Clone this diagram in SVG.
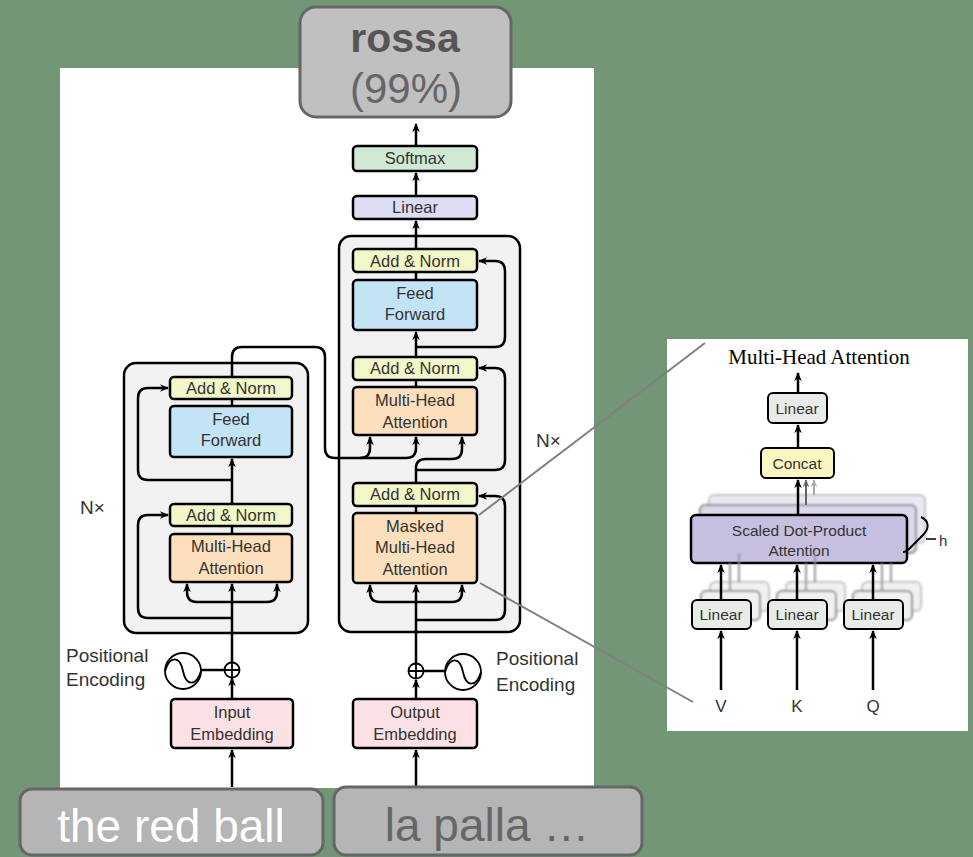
<svg xmlns="http://www.w3.org/2000/svg" width="973" height="857" viewBox="0 0 973 857">
  <defs>
    <marker id="ah" viewBox="0 0 10 10" refX="9" refY="5" markerWidth="9" markerHeight="9" markerUnits="userSpaceOnUse" orient="auto">
      <path d="M0,0.8 L10,5 L0,9.2 L3,5 z" fill="#000"/>
    </marker>
    <marker id="ahg" viewBox="0 0 10 10" refX="9" refY="5" markerWidth="8" markerHeight="8" markerUnits="userSpaceOnUse" orient="auto">
      <path d="M0,0.8 L10,5 L0,9.2 L3,5 z" fill="#666"/>
    </marker>
    <marker id="ahl" viewBox="0 0 10 10" refX="9" refY="5" markerWidth="8" markerHeight="8" markerUnits="userSpaceOnUse" orient="auto">
      <path d="M0,0.8 L10,5 L0,9.2 L3,5 z" fill="#aaa"/>
    </marker>
    <filter id="soft" x="-10%" y="-20%" width="120%" height="140%">
      <feGaussianBlur stdDeviation="0.9"/>
    </filter>
  </defs>
  <style>
    .blk { fill: #f2f2f2; stroke: #000; stroke-width: 2.5; }
    .box { stroke: #000; stroke-width: 2.5; }
    .an { fill: #f3f6c8; }
    .ff { fill: #c3e4f5; }
    .mha { fill: #fcdfbd; }
    .emb { fill: #fce1e4; }
    .lin { fill: #dcdcf2; }
    .sm { fill: #cfe9d4; }
    .t { font-family: "Liberation Sans", Arial, sans-serif; font-size: 16.5px; fill: #333; text-anchor: middle; }
    .lbl { font-family: "Liberation Sans", Arial, sans-serif; font-size: 19px; fill: #333; }
    .c { fill: none; stroke: #000; stroke-width: 2.5; }
    .ca { fill: none; stroke: #000; stroke-width: 2.5; marker-end: url(#ah); }
    .zoomline { stroke: #808080; stroke-width: 2; fill: none; }
    .pill { fill: #b5b5b5; stroke: #666; stroke-width: 3; }
    .pl { fill: #e7ece9; stroke: #000; stroke-width: 2; }
    .pt { font-family: "Liberation Sans", Arial, sans-serif; font-size: 15.5px; fill: #333; text-anchor: middle; }
  </style>

  <!-- backdrop -->
  <rect x="0" y="0" width="973" height="857" fill="#739676"/>
  <rect x="60" y="68" width="534" height="720" fill="#fff"/>

  <!-- stack containers (drawn under the wiring) -->
  <g id="encoder">
    <rect class="blk" x="124" y="363" width="184" height="270" rx="12"/>
    <text class="lbl" x="80" y="514" font-size="17">N×</text>
  </g>
  <g id="decoder">
    <rect class="blk" x="339" y="236" width="181" height="396" rx="12"/>
    <text class="lbl" x="536" y="447" font-size="17">N×</text>
  </g>

  <!-- connectors -->
  <g id="connectors">
    <!-- encoder -->
    <path class="ca" d="M232,787 V750"/>
    <path class="ca" d="M232,699 V678"/>
    <path class="ca" d="M232,662 V584"/>
    <path class="ca" d="M232,602 H197 Q187,602 187,592 V584"/>
    <path class="ca" d="M232,602 H267 Q277,602 277,592 V584"/>
    <path class="ca" d="M232,618 H148 Q138,618 138,608 V525 Q138,515 148,515 H168"/>
    <path class="c" d="M232,534 V526"/>
    <path class="ca" d="M232,504 V459"/>
    <path class="ca" d="M232,480 H148 Q138,480 138,470 V398 Q138,388 148,388 H168"/>
    <path class="c" d="M232,406 V399"/>
    <!-- encoder output into decoder cross-attention -->
    <path class="ca" d="M232,377 V357 Q232,347 242,347 H315 Q325,347 325,357 V448 Q325,458 335,458 H360 Q370,458 370,448 V437"/>
    <path class="ca" d="M360,458 H406 Q416,458 416,448 V437"/>

    <!-- decoder -->
    <path class="ca" d="M416,787 V750"/>
    <path class="ca" d="M416,699 V680"/>
    <path class="ca" d="M416,663 V585"/>
    <path class="ca" d="M416,602 H380 Q370,602 370,592 V585"/>
    <path class="ca" d="M416,602 H452 Q462,602 462,592 V585"/>
    <path class="ca" d="M416,620 H495 Q505,620 505,610 V506 Q505,496 495,496 H479"/>
    <path class="c" d="M416,513 V506"/>
    <path class="ca" d="M416,483 V468 Q416,459 426,459 H452 Q462,459 462,449 V437"/>
    <path class="ca" d="M416,470 H495 Q505,470 505,460 V378 Q505,368 495,368 H479"/>
    <path class="c" d="M416,387 V380"/>
    <path class="ca" d="M416,357 V332"/>
    <path class="ca" d="M416,347 H495 Q505,347 505,337 V271 Q505,261 495,261 H479"/>
    <path class="c" d="M416,280 V272"/>
    <path class="ca" d="M416,249 V221"/>
    <path class="ca" d="M416,196 V173"/>
    <path class="ca" d="M416,146 V124"/>

    <!-- positional encoding joins -->
    <path class="c" d="M201,670 H225" stroke-width="2"/>
    <path class="c" d="M423,671 H445" stroke-width="2"/>
  </g>

  <!-- encoder layers -->
  <g id="enc-addnorm2">
    <rect class="box an" x="170" y="377" width="122" height="22" rx="4"/>
    <text class="t" x="231" y="394">Add &amp; Norm</text>
  </g>
  <g id="enc-ff">
    <rect class="box ff" x="170" y="406" width="122" height="51" rx="4"/>
    <text class="t" x="231" y="425">Feed</text>
    <text class="t" x="231" y="446">Forward</text>
  </g>
  <g id="enc-addnorm1">
    <rect class="box an" x="170" y="504" width="122" height="22" rx="4"/>
    <text class="t" x="231" y="521">Add &amp; Norm</text>
  </g>
  <g id="enc-mha">
    <rect class="box mha" x="170" y="534" width="122" height="48" rx="4"/>
    <text class="t" x="231" y="552">Multi-Head</text>
    <text class="t" x="231" y="574">Attention</text>
  </g>

  <!-- decoder layers -->
  <g id="dec-addnorm3">
    <rect class="box an" x="353" y="249" width="124" height="23" rx="4"/>
    <text class="t" x="415" y="267">Add &amp; Norm</text>
  </g>
  <g id="dec-ff">
    <rect class="box ff" x="353" y="280" width="124" height="50" rx="4"/>
    <text class="t" x="415" y="299">Feed</text>
    <text class="t" x="415" y="320">Forward</text>
  </g>
  <g id="dec-addnorm2">
    <rect class="box an" x="353" y="357" width="124" height="23" rx="4"/>
    <text class="t" x="415" y="374">Add &amp; Norm</text>
  </g>
  <g id="dec-mha">
    <rect class="box mha" x="353" y="387" width="124" height="48" rx="4"/>
    <text class="t" x="415" y="406">Multi-Head</text>
    <text class="t" x="415" y="428">Attention</text>
  </g>
  <g id="dec-addnorm1">
    <rect class="box an" x="353" y="483" width="124" height="23" rx="4"/>
    <text class="t" x="415" y="500">Add &amp; Norm</text>
  </g>
  <g id="dec-masked">
    <rect class="box mha" x="353" y="513" width="124" height="70" rx="4"/>
    <text class="t" x="415" y="532">Masked</text>
    <text class="t" x="415" y="553">Multi-Head</text>
    <text class="t" x="415" y="575">Attention</text>
  </g>
  <g id="dec-linear">
    <rect class="box lin" x="353" y="196" width="124" height="23" rx="4"/>
    <text class="t" x="415" y="213">Linear</text>
  </g>
  <g id="dec-softmax">
    <rect class="box sm" x="353" y="146" width="124" height="25" rx="4"/>
    <text class="t" x="415" y="164">Softmax</text>
  </g>

  <!-- positional encodings -->
  <g id="enc-posenc">
    <circle cx="183" cy="671" r="18" fill="none" stroke="#000" stroke-width="1.8"/>
    <path d="M165,671 C170,655 180,656 183,671 C186,686 196,687 201,671" fill="none" stroke="#000" stroke-width="1.8"/>
    <circle cx="232" cy="670" r="7.5" fill="#fff" stroke="#000" stroke-width="1.8"/>
    <path d="M224.5,670 H239.5 M232,662.5 V677.5" stroke="#000" stroke-width="1.8"/>
    <text class="lbl" x="66" y="662">Positional</text>
    <text class="lbl" x="66" y="686">Encoding</text>
  </g>
  <g id="dec-posenc">
    <circle cx="463" cy="672" r="18" fill="none" stroke="#000" stroke-width="1.8"/>
    <path d="M445,672 C450,656 460,657 463,672 C466,687 476,688 481,672" fill="none" stroke="#000" stroke-width="1.8"/>
    <circle cx="416" cy="671" r="7.5" fill="#fff" stroke="#000" stroke-width="1.8"/>
    <path d="M408.5,671 H423.5 M416,663.5 V678.5" stroke="#000" stroke-width="1.8"/>
    <text class="lbl" x="496" y="665">Positional</text>
    <text class="lbl" x="496" y="691">Encoding</text>
  </g>

  <!-- embeddings -->
  <g id="input-emb">
    <rect class="box emb" x="171" y="699" width="122" height="49" rx="4"/>
    <text class="t" x="232" y="718">Input</text>
    <text class="t" x="232" y="740">Embedding</text>
  </g>
  <g id="output-emb">
    <rect class="box emb" x="353" y="699" width="124" height="49" rx="4"/>
    <text class="t" x="415" y="718">Output</text>
    <text class="t" x="415" y="740">Embedding</text>
  </g>

  <!-- token pills -->
  <g id="src-tokens">
    <rect class="pill" x="20" y="789" width="303" height="66" rx="12"/>
    <text x="171" y="842" font-family="Liberation Sans, Arial, sans-serif" font-size="46" fill="#fff" text-anchor="middle">the red ball</text>
  </g>
  <g id="tgt-tokens">
    <rect class="pill" x="334" y="787" width="308" height="68" rx="12"/>
    <text x="487" y="841" font-family="Liberation Sans, Arial, sans-serif" font-size="46" fill="#666" text-anchor="middle">la palla …</text>
  </g>
  <g id="prediction">
    <rect x="300" y="7" width="211" height="110" rx="16" fill="#c0c0c0" stroke="#666" stroke-width="3"/>
    <text x="405" y="52" font-family="Liberation Sans, Arial, sans-serif" font-size="41" font-weight="bold" fill="#555" text-anchor="middle">rossa</text>
    <text x="406" y="103" font-family="Liberation Sans, Arial, sans-serif" font-size="42" fill="#666" text-anchor="middle">(99%)</text>
  </g>

  <!-- multi-head attention detail -->
  <g id="mha-detail">
    <rect x="667" y="339" width="301" height="392" fill="#fff"/>
    <text x="819" y="364" font-family="Liberation Serif, Times New Roman, serif" font-size="21" fill="#000" text-anchor="middle">Multi-Head Attention</text>

    <path class="ca" d="M798,393 V373" stroke-width="2.2"/>
    <path class="ca" d="M798,448 V425" stroke-width="2.2"/>

    <!-- stacked heads, back to front -->
    <g filter="url(#soft)">
      <rect x="709" y="495" width="216" height="48" rx="5" fill="#ebe8f4" stroke="#c4c4c4" stroke-width="2"/>
      <rect x="700" y="505" width="216" height="48" rx="5" fill="#dcd7ec" stroke="#8a8a8a" stroke-width="2"/>
    </g>
    <path d="M814,495 V480" stroke="#aaa" stroke-width="2" marker-end="url(#ahl)"/>
    <path d="M806,505 V480" stroke="#666" stroke-width="2" marker-end="url(#ahg)"/>
    <path class="ca" d="M798,515 V480" stroke-width="2.2"/>
    <rect x="691" y="515" width="216" height="48" rx="5" fill="#c6bfe0" stroke="#000" stroke-width="2.5"/>
    <text class="pt" x="799" y="536">Scaled Dot-Product</text>
    <text class="pt" x="799" y="556">Attention</text>

    <g id="concat">
      <rect x="761" y="448" width="73" height="30" rx="5" fill="#fbf6c1" stroke="#000" stroke-width="2"/>
      <text class="pt" x="797" y="469">Concat</text>
    </g>
    <g id="mha-linear">
      <rect class="pl" x="768" y="393" width="59" height="30" rx="5"/>
      <text class="pt" x="797" y="414">Linear</text>
    </g>

    <!-- head count brace -->
    <path d="M921,517 C930,521 929,529 923,535 L910,548 C907,551 905,552 903,552" fill="none" stroke="#000" stroke-width="2"/>
    <path d="M926,539 H936" stroke="#000" stroke-width="1.5"/>
    <text x="939" y="546" font-family="Liberation Sans, Arial, sans-serif" font-size="15" fill="#333">h</text>

    <!-- per-head projections -->
    <g filter="url(#soft)" fill="#f0f2f1">
      <rect x="710" y="582" width="59" height="29" rx="5" stroke="#c4c4c4" stroke-width="2"/>
      <rect x="701" y="591" width="59" height="29" rx="5" stroke="#8a8a8a" stroke-width="2"/>
      <rect x="786" y="582" width="59" height="29" rx="5" stroke="#c4c4c4" stroke-width="2"/>
      <rect x="777" y="591" width="59" height="29" rx="5" stroke="#8a8a8a" stroke-width="2"/>
      <rect x="862" y="582" width="59" height="29" rx="5" stroke="#c4c4c4" stroke-width="2"/>
      <rect x="853" y="591" width="59" height="29" rx="5" stroke="#8a8a8a" stroke-width="2"/>
      <path d="M730,591 V563 M739,582 V553 M806,591 V563 M815,582 V553 M882,591 V563 M891,582 V563" stroke="#999" stroke-width="2" fill="none"/>
    </g>
    <path class="ca" d="M721,600 V565" stroke-width="2.2"/>
    <path class="ca" d="M797,600 V565" stroke-width="2.2"/>
    <path class="ca" d="M873,600 V565" stroke-width="2.2"/>
    <g id="lin-v">
      <rect class="pl" x="692" y="600" width="59" height="29" rx="5"/>
      <text class="pt" x="721" y="620">Linear</text>
    </g>
    <g id="lin-k">
      <rect class="pl" x="768" y="600" width="59" height="29" rx="5"/>
      <text class="pt" x="797" y="620">Linear</text>
    </g>
    <g id="lin-q">
      <rect class="pl" x="844" y="600" width="59" height="29" rx="5"/>
      <text class="pt" x="873" y="620">Linear</text>
    </g>
    <path class="ca" d="M721,690 V631" stroke-width="2.2"/>
    <path class="ca" d="M797,690 V631" stroke-width="2.2"/>
    <path class="ca" d="M873,690 V631" stroke-width="2.2"/>
    <text x="721" y="712" font-family="Liberation Sans, Arial, sans-serif" font-size="17" fill="#333" text-anchor="middle">V</text>
    <text x="797" y="712" font-family="Liberation Sans, Arial, sans-serif" font-size="17" fill="#333" text-anchor="middle">K</text>
    <text x="873" y="712" font-family="Liberation Sans, Arial, sans-serif" font-size="17" fill="#333" text-anchor="middle">Q</text>
  </g>

  <!-- callout lines to the detail panel -->
  <g id="callout">
    <path class="zoomline" d="M479,515 L705,343"/>
    <path class="zoomline" d="M480,583 L693,702"/>
  </g>
</svg>
